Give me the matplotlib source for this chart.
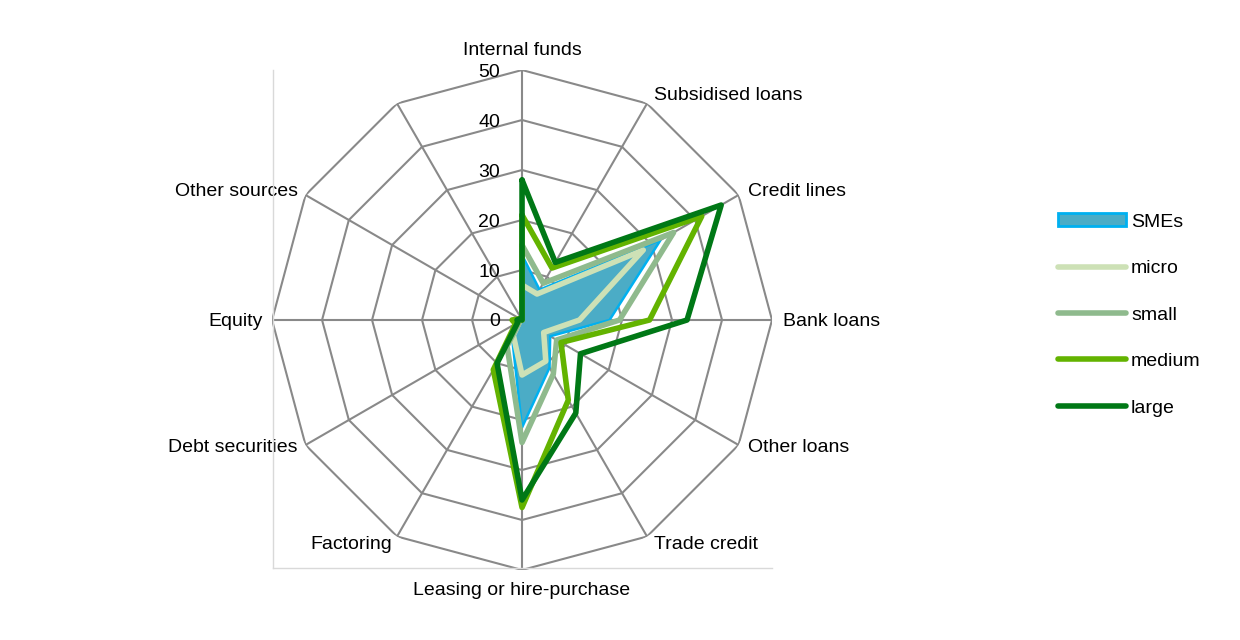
import numpy as np
import matplotlib
matplotlib.use('Agg')
import matplotlib.pyplot as plt
from matplotlib.lines import Line2D
from matplotlib.patches import Patch

plt.rcParams['font.family'] = ['Liberation Sans', 'DejaVu Sans']

# categories clockwise from the top (last spoke has no label)
categories = ['Internal funds', 'Subsidised loans', 'Credit lines', 'Bank loans',
              'Other loans', 'Trade credit', 'Leasing or hire-purchase', 'Factoring',
              'Debt securities', 'Equity', 'Other sources', '']

smes = [13, 7, 32, 17.5, 6.5, 11, 21.5, 4, 0.5, 1, 0.5, 0]
micro = [7, 6, 28, 11.5, 5, 9.5, 11, 3.5, 0.5, 0.5, 0.5, 0]
small = [15, 8.5, 35, 19.5, 8, 12.5, 24.5, 6, 0.5, 1, 0.5, 0]
medium = [21, 12, 41.5, 25.5, 9, 18.5, 37.5, 11.5, 1.5, 2, 0.5, 0]
large = [28, 13.3, 46, 33, 13.5, 21.5, 36, 10, 1, 1, 0.5, 0]

rings = [0, 10, 20, 30, 40, 50]

grid_col = '#898989'
colors = {'micro': '#cde1b6', 'small': '#8fba8d', 'medium': '#63b300', 'large': '#007816'}

n = len(categories)
angles = np.arange(n) * 2 * np.pi / n
ang_c = np.append(angles, angles[0])

def closed(v):
    return np.append(v, v[0])

fig = plt.figure(figsize=(12.4, 6.4), dpi=100)
ax = fig.add_axes([0.2194, 0.1094, 0.4032, 0.7812], projection='polar')
ax.set_theta_zero_location('N')
ax.set_theta_direction(-1)
ax.set_ylim(0, 50)
ax.grid(False)
ax.spines['polar'].set_visible(False)
ax.set_xticks([])
ax.set_yticks([])
ax.patch.set_visible(False)

# polygon grid and spokes
for r in rings[1:]:
    ax.plot(ang_c, [r] * (n + 1), color=grid_col, lw=1.5, zorder=1)
for a in angles:
    ax.plot([a, a], [0, 50], color=grid_col, lw=1.5, zorder=1)

# radial tick labels
for r in rings:
    ax.annotate(str(r), xy=(0, r), xytext=(-22, -2), textcoords='offset pixels',
                ha='right', va='center', fontsize=14)

# category labels
offsets = [(0, 20, 'center'), (7, 8, 'left'), (9, 4, 'left'), (11, -1, 'left'),
           (9, -3, 'left'), (7, -8, 'left'), (0, -21, 'center'), (-5, -8, 'right'),
           (-8, -3, 'right'), (-9, -1, 'right'), (-8, 4, 'right'), (0, 0, 'center')]
for a, lab, (dx, dy, ha) in zip(angles, categories, offsets):
    if lab:
        ax.annotate(lab, xy=(a, 50), xytext=(dx, dy), textcoords='offset pixels',
                    ha=ha, va='center', fontsize=14)

# series
ax.fill(ang_c, closed(smes), facecolor='#4bacc6', edgecolor='#00b0f0', lw=1.8, zorder=2)
for name, vals in [('micro', micro), ('small', small), ('medium', medium), ('large', large)]:
    ax.plot(ang_c, closed(vals), color=colors[name], lw=4.0, zorder=3,
            solid_joinstyle='round', solid_capstyle='round')

# light plot-area border (left and bottom)
fig.add_artist(Line2D([273 / 1240, 273 / 1240], [1 - 70 / 640, 1 - 568 / 640],
                      color='#d9d9d9', lw=1))
fig.add_artist(Line2D([273 / 1240, 772 / 1240], [1 - 568 / 640, 1 - 568 / 640],
                      color='#d9d9d9', lw=1))

handles = [Patch(facecolor='#4bacc6', edgecolor='#00b0f0', lw=2, label='SMEs')]
for name in ['micro', 'small', 'medium', 'large']:
    handles.append(Line2D([], [], color=colors[name], lw=4, solid_capstyle='round', label=name))
fig.legend(handles=handles, loc='center left', bbox_to_anchor=(1058 / 1240, 1 - 315 / 640),
           frameon=False, fontsize=14, handlelength=3.5, handleheight=0.65,
           handletextpad=0.25, labelspacing=1.5, borderpad=0, borderaxespad=0)

fig.savefig('out.png', dpi=100)
